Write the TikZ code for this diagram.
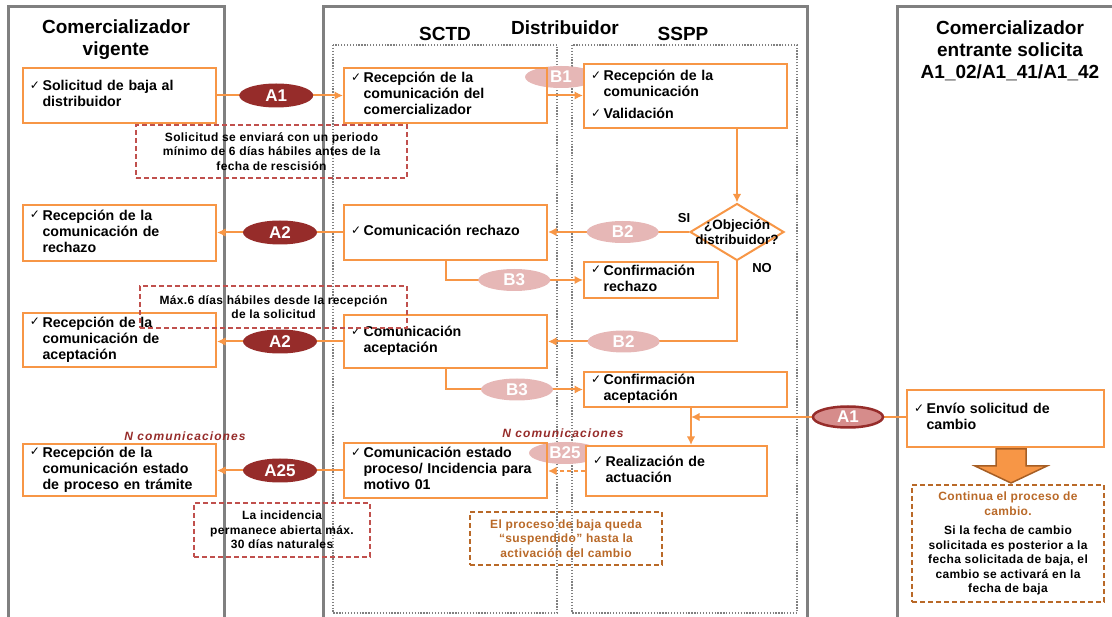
\documentclass[tikz,border=0pt]{standalone}
\usepackage{fontspec}
\setmainfont{Liberation Sans}
\newfontfamily\symfont{DejaVu Sans}
\usepackage{tikz}
\usetikzlibrary{shapes.geometric,arrows.meta}
\definecolor{naranja}{RGB}{247,150,70}
\definecolor{granate}{RGB}{150,44,42}
\definecolor{rosa}{RGB}{230,183,182}
\definecolor{rosaos}{RGB}{214,140,139}
\definecolor{rojon}{RGB}{192,80,77}
\definecolor{marron}{RGB}{185,105,40}
\definecolor{gris}{RGB}{128,128,128}
\newcommand{\ck}{{\symfont\fontsize{12}{12}\selectfont\raisebox{1.5pt}{✓}}}
\newcommand{\chk}[1]{\begin{tabular}[c]{@{}l@{\hspace{2.5pt}}l@{}}#1\end{tabular}}

\begin{document}
\begin{tikzpicture}[x=1pt, y=-1pt, >={Latex[length=8.5pt,width=8.5pt]},
    caja/.style={draw=naranja, line width=2pt, align=left, text width=#1, inner xsep=7pt, inner ysep=1pt,
      font=\fontsize{14.2}{16}\selectfont\bfseries},
    ea/.style={ellipse, fill=granate, text=white, minimum width=74pt, minimum height=24pt, inner sep=0pt,
      font=\fontsize{17}{17}\selectfont\bfseries},
    eb/.style={ea, fill=rosa, minimum width=72pt, minimum height=22pt},
    ec/.style={ea, fill=rosaos, draw=granate, line width=2.5pt, minimum width=70pt, minimum height=21pt},
    flecha/.style={draw=naranja, line width=2pt, ->},
    nota/.style={draw=#1, dash pattern=on 5pt off 3pt, line width=1.2pt, align=center, inner sep=0pt,
      font=\fontsize{12}{14.5}\selectfont\bfseries\addfontfeatures{LetterSpace=3}},
    titulo/.style={align=center, font=\fontsize{19}{22}\selectfont\bfseries},
    ncom/.style={text=granate, font=\fontsize{12}{12}\selectfont\bfseries\itshape\addfontfeatures{LetterSpace=9}},
    carril/.style={draw=gris, line width=3pt},
    sub/.style={draw=gris, line width=1.3pt, dash pattern=on 1.3pt off 1.6pt}
  ]
  \useasboundingbox (0,0) rectangle (1112,617);
  % carriles
  \draw[carril] (8,620) |- (224,7) -- (224,620);
  \draw[carril] (323,620) |- (807,7) -- (807,620);
  \draw[carril] (897,620) |- (1116,7);
  \draw[sub] (333,45) rectangle (557,613);
  \draw[sub] (572,45) rectangle (797,613);

  \node[titulo] (tv) at (116,40) {Comercializador\\vigente};
  \node[titulo] (tsctd) at (445,34) {SCTD};
  \node[titulo] (tdis) at (565,28) {Distribuidor};
  \node[titulo] (tsspp) at (683,34) {SSPP};
  \node[titulo] (te) at (1010,51) {Comercializador\\entrante solicita\\A1\_02/A1\_41/A1\_42};

  \node[eb] (b1) at (561,77) {B1};
  \node[eb] (b25) at (565,453) {B25};

  % cajas
  \node[caja=179pt, minimum height=55pt] (v1) at (119.5,95.5) {\chk{\ck & Solicitud de baja al\\ & distribuidor}};
  \node[caja=179pt, minimum height=56pt] (v2) at (119.5,233) {\chk{\ck & Recepción de la\\ & comunicación de\\ & rechazo}};
  \node[caja=179pt, minimum height=54pt] (v3) at (119.5,340) {\chk{\ck & Recepción de la\\ & comunicación de\\ & aceptación}};
  \node[caja=179pt, minimum height=52pt] (v4) at (119.5,470) {\chk{\ck & Recepción de la\\ & comunicación estado\\ & de proceso en trámite}};
  \node[caja=189pt, minimum height=55pt] (d1) at (445.5,95.5) {\chk{\ck & Recepción de la\\ & comunicación del\\ & comercializador}};
  \node[caja=189pt, minimum height=55pt] (d2) at (445.5,232.5) {\chk{\ck & Comunicación rechazo}};
  \node[caja=189pt, minimum height=53pt] (d3) at (445.5,341.5) {\chk{\ck & Comunicación\\ & aceptación}};
  \node[caja=189pt, minimum height=55pt] (d4) at (445.5,470.5) {\chk{\ck & Comunicación estado\\ & proceso/ Incidencia para\\ & motivo 01}};
  \node[caja=189pt, minimum height=64pt, fill=white] (s1) at (685.5,96.5) {\chk{\ck & Recepción de la\\ & comunicación\\[6pt] \ck & Validación}};
  \node[caja=120pt, minimum height=36pt] (s2) at (651,280) {\chk{\ck & Confirmación\\ & rechazo}};
  \node[caja=189pt, minimum height=35pt] (s3) at (685.5,389.5) {\chk{\ck & Confirmación\\ & aceptación}};
  \node[caja=167pt, minimum height=50pt, fill=white] (s4) at (676.5,471) {\chk{\ck & Realización de\\ & actuación}};
  \node[caja=183pt, minimum height=57pt] (e1) at (1005.5,418.5) {\chk{\ck & Envío solicitud de\\ & cambio}};
  \node[diamond, draw=naranja, line width=2pt, fill=white, minimum width=94pt, minimum height=57pt, inner sep=0pt,
    label={[font=\fontsize{13.5}{15}\selectfont\bfseries, align=center]center:¿Objeción\\distribuidor?}] (obj) at (737,232) {};

  % flechas
  \draw[flecha] (v1) -- node[ea, pos=0.47] (a1) {A1} (d1);
  \draw[flecha] (d1.east) -- (d1.east -| s1.west);
  \draw[flecha] (s1.south -| obj.north) -- (obj.north);
  \draw[flecha] (obj.west) -- node[eb, pos=0.47] (b2a) {B2} (obj.west -| d2.east);
  \draw[flecha] (d2.west) -- node[ea] (a2a) {A2} (d2.west -| v2.east);
  \draw[flecha] (d2.south) |- node[eb, pos=0.75] (b3a) {B3} (s2.west);
  \draw[flecha] (obj.south) |- node[eb, pos=0.8] (b2b) {B2} (d3.east);
  \draw[flecha] (d3.west) -- node[ea] (a2b) {A2} (d3.west -| v3.east);
  \draw[flecha] (d3.south) |- node[eb, pos=0.76] (b3b) {B3} (s3.west);
  \coordinate (c1) at (691,417);
  \draw[flecha] (e1.west |- c1) -- node[ec, pos=0.27] (a1b) {A1} (c1);
  \draw[flecha] (c1 |- s3.south) -- (c1 |- s4.north);
  \draw[flecha, dash pattern=on 4pt off 3pt] (s4.west) -- (s4.west -| d4.east);
  \draw[flecha] (d4.west) -- node[ea] (a25) {A25} (d4.west -| v4.east);

  \node[font=\fontsize{13}{13}\selectfont\bfseries] (si) at (684,218) {SI};
  \node[font=\fontsize{13}{13}\selectfont\bfseries] (no) at (762,268) {NO};
  \node[ncom] (nc1) at (185,436) {N comunicaciones};
  \node[ncom] (nc2) at (563,433) {N comunicaciones};

  % flecha de bloque
  \draw[fill=naranja, draw=marron!90!black, line width=1.5pt]
    (996,449) -- (1026,449) -- (1026,466) -- (1047,466) -- (1011,483) -- (975,466) -- (996,466) -- cycle;

  % notas
  \node[nota=rojon, minimum width=271pt, minimum height=53pt] (n1) at (271.5,151.5)
    {Solicitud se enviará con un periodo\\mínimo de 6 días hábiles antes de la\\fecha de rescisión};
  \node[nota=rojon, minimum width=267pt, minimum height=42pt] (n2) at (273.5,307)
    {Máx.6 días hábiles desde la recepción\\de la solicitud};
  \node[nota=rojon, minimum width=176pt, minimum height=54pt] (n3) at (282,530)
    {La incidencia\\permanece abierta máx.\\30 días naturales};
  \node[nota=marron, text=marron, minimum width=192pt, minimum height=53pt] (n4) at (566,538.5)
    {El proceso de baja queda\\“suspendido” hasta la\\activación del cambio};
  \node[nota=marron, minimum width=192pt, minimum height=117pt] (n5) at (1008,543.5)
    {\textcolor{marron}{Continua el proceso de}\\\textcolor{marron}{cambio.}\\[5pt]Si la fecha de cambio\\solicitada es posterior a la\\fecha solicitada de baja, el\\cambio se activará en la\\fecha de baja};
\end{tikzpicture}
\end{document}
